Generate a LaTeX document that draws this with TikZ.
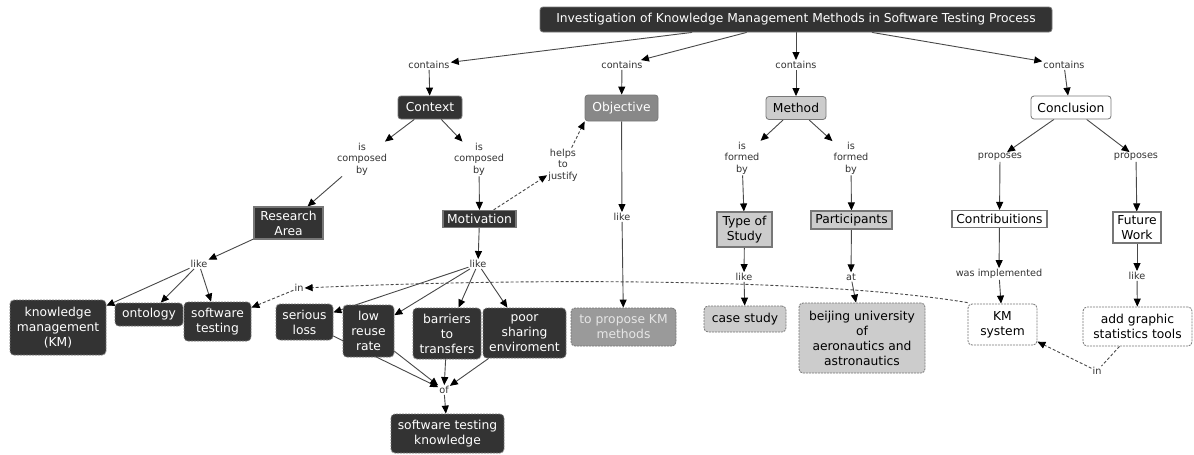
\documentclass[tikz,border=0pt]{standalone}
\usepackage{fontspec}
\setmainfont{DejaVu Sans}
\usetikzlibrary{arrows.meta,backgrounds}
\definecolor{ink}{HTML}{333333}
\definecolor{mid}{HTML}{888888}
\definecolor{soft}{HTML}{9A9A9A}
\definecolor{pale}{HTML}{CCCCCC}
\definecolor{rim}{HTML}{777777}
\definecolor{wire}{HTML}{484848}
\definecolor{faint}{HTML}{E6E6E6}
\begin{document}
\begin{tikzpicture}[x=1pt,y=-1pt,
  base/.style={font=\fontsize{12.3}{15}\selectfont, align=center, inner sep=0pt, line width=0.8pt},
  rbox/.style={base, rounded corners=3pt, draw=rim},
  sbox/.style={base, draw=rim, line width=1.1pt},
  dbox/.style={base, rounded corners=4pt, draw=rim, dash pattern=on 2pt off 1pt},
  dark/.style={fill=ink, text=white},
  lbl/.style={font=\fontsize{9.7}{11.5}\selectfont, align=center, text=ink, inner sep=1pt},
  link/.style={draw=wire, line width=0.9pt, -{Triangle[length=8pt,width=7pt,color=black]}},
  dlink/.style={link, dash pattern=on 3pt off 2pt},
  dline/.style={draw=wire, line width=0.9pt, dash pattern=on 3pt off 2pt}
]
\useasboundingbox (0,0) rectangle (1194,455);

% main concept and its four parts
\node[rbox, dark, minimum width=512, minimum height=25] (title) at (796,19.5)
  {Investigation of Knowledge Management Methods in Software Testing Process};
\node[lbl] (c1) at (429,65) {contains};
\node[lbl] (c2) at (622,65) {contains};
\node[lbl] (c3) at (796,65) {contains};
\node[lbl] (c4) at (1064,65) {contains};
\node[rbox, dark, minimum width=64, minimum height=23] (context) at (430,107.5) {Context};
\node[rbox, fill=mid, text=white, minimum width=73, minimum height=26] (objective) at (621.5,108) {Objective};
\node[rbox, fill=pale, minimum width=60, minimum height=23] (method) at (796,108) {Method};
\node[rbox, fill=white, minimum width=80, minimum height=23] (conclusion) at (1071,107.5) {Conclusion};

% context branch
\node[lbl] (icb1) at (362,159) {is\\composed\\by};
\node[lbl] (icb2) at (479,159) {is\\composed\\by};
\node[lbl] (helps) at (563,165) {helps\\to\\justify};
\node[sbox, dark, minimum width=69, minimum height=32] (ra) at (288.5,223) {Research\\Area};
\node[sbox, dark, minimum width=73, minimum height=17] (mot) at (479.5,219) {Motivation};
\node[lbl] (likera) at (199,264) {like};
\node[lbl] (in1) at (299,288) {in};
\node[dbox, dark, minimum width=96, minimum height=55] (km) at (58,327.5) {knowledge\\management\\(KM)};
\node[dbox, dark, minimum width=68, minimum height=23] (onto) at (149,314.5) {ontology};
\node[dbox, dark, minimum width=67, minimum height=39] (st) at (217.5,321.5) {software\\testing};
\node[lbl] (likemot) at (478,264) {like};
\node[dbox, dark, minimum width=57, minimum height=36] (serious) at (304.5,322) {serious\\loss};
\node[dbox, dark, minimum width=51, minimum height=52] (lowreuse) at (368.5,331) {low\\reuse\\rate};
\node[dbox, dark, minimum width=68, minimum height=51] (barriers) at (447,333.5) {barriers\\to\\transfers};
\node[dbox, dark, minimum width=83, minimum height=50] (poor) at (524.5,333) {poor\\sharing\\enviroment};
\node[lbl] (of) at (444,390) {of};
\node[dbox, dark, minimum width=113, minimum height=39] (stk) at (447.5,433.5) {software testing\\knowledge};

% objective branch
\node[lbl] (likeobj) at (622,217) {like};
\node[dbox, fill=soft, text=faint, minimum width=105, minimum height=38] (propose) at (623.5,327) {to propose KM\\methods};

% method branch
\node[lbl] (ifb1) at (742,158) {is\\formed\\by};
\node[lbl] (ifb2) at (851,158) {is\\formed\\by};
\node[sbox, fill=pale, minimum width=55, minimum height=35] (tos) at (744.5,229.5) {Type of\\Study};
\node[sbox, fill=pale, minimum width=81, minimum height=18] (part) at (851.5,220) {Participants};
\node[lbl] (likem) at (744,277) {like};
\node[lbl] (at) at (851,277) {at};
\node[dbox, fill=pale, minimum width=82, minimum height=26] (case) at (745,319) {case study};
\node[dbox, fill=pale, minimum width=126, minimum height=70] (beijing) at (862,338) {beijing university\\of\\aeronautics and\\astronautics};

% conclusion branch
\node[lbl] (prop1) at (1000,157) {proposes};
\node[lbl] (prop2) at (1136,157) {proposes};
\node[sbox, fill=white, minimum width=95, minimum height=17] (contrib) at (999.5,219) {Contribuitions};
\node[sbox, fill=white, minimum width=48, minimum height=31] (fw) at (1137,227.5) {Future\\Work};
\node[lbl] (wasimp) at (999,274) {was implemented};
\node[lbl] (likefw) at (1137,276) {like};
\node[dbox, fill=white, minimum width=69, minimum height=41] (kms) at (1002.5,324.5) {KM\\system};
\node[dbox, fill=white, minimum width=109, minimum height=39] (agst) at (1137.5,326.5) {add graphic\\statistics tools};
\node[lbl] (in2) at (1097,371) {in};

\begin{scope}[on background layer]
  \fill[white] (0,0) rectangle (1194,455);
  \draw[link] (title) -- (c1);
  \draw[link] (title) -- (c2);
  \draw[link] (title) -- (c3);
  \draw[link] (title) -- (c4);
  \draw[link] (c1) -- (context);
  \draw[link] (c2) -- (objective);
  \draw[link] (c3) -- (method);
  \draw[link] (c4) -- ([xshift=-3pt]conclusion.north);

  \draw[link] (context) -- (icb1);
  \draw[link] (icb1) -- (ra);
  \draw[link] (context) -- (icb2);
  \draw[link] (icb2) -- (mot);
  \draw[dlink] ([xshift=14pt]mot.north) -- (helps);
  \draw[dlink] (helps) -- (objective.south west);
  \draw[link] (ra) -- (likera);
  \draw[link] (likera) -- (km);
  \draw[link] (likera) -- (onto);
  \draw[link] (likera) -- (st);
  \draw[link] (mot) -- (likemot);
  \draw[link] (likemot) -- (serious);
  \draw[link] (likemot) -- (lowreuse);
  \draw[link] (likemot) -- (barriers);
  \draw[link] (likemot) -- (poor);
  \draw[link] (serious) -- (of);
  \draw[link] (lowreuse) -- (of);
  \draw[link] (barriers) -- (of);
  \draw[link] (poor) -- (of);
  \draw[link] (of) -- (stk);

  \draw[link] (objective) -- (likeobj);
  \draw[link] (likeobj) -- (propose);

  \draw[link] (method) -- (ifb1);
  \draw[link] (ifb1) -- (tos);
  \draw[link] (method) -- (ifb2);
  \draw[link] (ifb2) -- (part);
  \draw[link] (tos) -- (likem);
  \draw[link] (likem) -- (case);
  \draw[link] (part) -- (at);
  \draw[link] (at) -- ([xshift=-6pt]beijing.north);

  \draw[link] (conclusion) -- (prop1);
  \draw[link] (prop1) -- (contrib);
  \draw[link] (conclusion) -- (prop2);
  \draw[link] (prop2) -- (fw);
  \draw[link] (contrib) -- (wasimp);
  \draw[link] (wasimp) -- (kms);
  \draw[link] (fw) -- (likefw);
  \draw[link] (likefw) -- (agst);

  \draw[dline] ([xshift=-18pt]agst.south) -- (in2);
  \draw[dlink] (in2) -- (kms);
  \draw[dlink] ([yshift=1pt]kms.north west) .. controls (820,278) and (520,278) .. (in1.east);
  \draw[dlink] (in1) -- (st);
\end{scope}
\end{tikzpicture}
\end{document}
